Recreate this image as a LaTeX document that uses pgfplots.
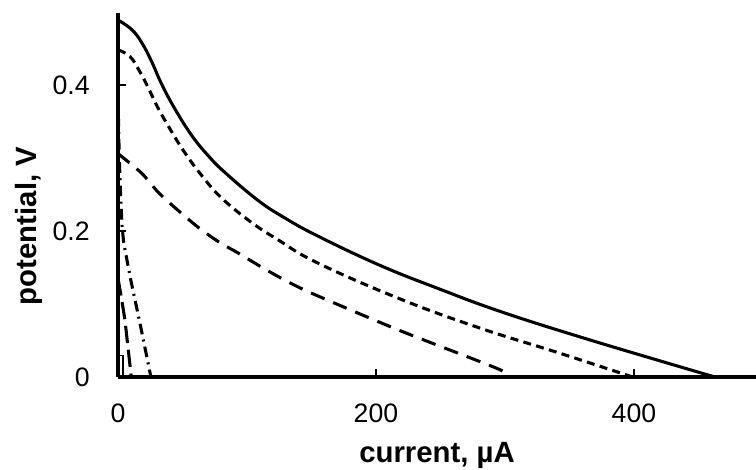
\documentclass[border=0pt]{standalone}
\usepackage{fontspec}
\setmainfont{Liberation Sans}
\usepackage{pgfplots}
\pgfplotsset{compat=1.18}

\begin{document}
\begin{tikzpicture}
\begin{axis}[
scale only axis,
width=478.5pt, height=273pt,
xmin=0, xmax=494.6,
ymin=0, ymax=0.4986,
axis lines=left,
axis line style={line width=2.3pt,-},
xtick={0,200,400},
ytick={0,0.2,0.4},
yticklabels={0,0.2,0.4},
tick align=inside,
major tick length=6pt,
tick style={line width=1.6pt,black},
/pgf/number format/assume math mode=true,
ticklabel style={font=\fontsize{20}{24}\selectfont, inner sep=0pt},
xticklabel style={anchor=north, yshift=-20pt},
yticklabel style={anchor=east, xshift=-21pt},
xlabel={current, µA},
ylabel={potential, V},
label style={font=\fontsize{22}{26}\selectfont\bfseries},
xlabel style={at={(axis description cs:0.5,-0.2345)}, anchor=base},
ylabel style={at={(axis description cs:-0.1275,0.4148)}, anchor=base},
every axis plot/.append style={line width=2.3pt, black},
]
% solid
\addplot[smooth, tension=0.7] coordinates {
(0,0.489) (10.6,0.476) (18.4,0.458) (26.1,0.432) (33.9,0.401)
(44.2,0.367) (57.1,0.331) (70,0.303) (83,0.280) (108.5,0.242)
(129.2,0.218) (155,0.193) (203,0.153) (250,0.120) (296,0.090) (358,0.055)
(435.7,0.014) (463,0)
};
% short dashes
\addplot[smooth, tension=0.7, dash pattern=on 6pt off 4pt] coordinates {
(0,0.448) (9.3,0.439) (17,0.418) (23.5,0.396) (31.2,0.368) (41.6,0.336)
(51.9,0.307) (64.9,0.276) (80.4,0.245) (103.3,0.212) (124,0.188)
(155,0.156) (218.6,0.107) (280.6,0.067) (340,0.034) (399,0)
};
% long dashes
\addplot[smooth, dash pattern=on 11pt off 7pt] coordinates {
(0,0.306) (18.4,0.279) (31.2,0.253) (46.7,0.228) (62.2,0.205)
(79,0.184) (93,0.170) (113.7,0.148) (134.4,0.128) (155,0.111) (218,0.064) (293.5,0.012)
(304,0)
};
% dash dot
\addplot[dash pattern=on 8pt off 4pt on 1.5pt off 4pt] coordinates {
(0,0.39) (0.5,0.34) (1,0.30) (2,0.25) (3.2,0.205) (4.5,0.183) (10,0.132)
(17,0.074) (25.5,0)
};
% long dash near origin
\addplot[dash pattern=on 13pt off 5pt] coordinates {
(0,0.135) (2.5,0.11) (5.4,0.078) (10.3,0)
};
% tiny curve
\addplot[line width=0.8pt] coordinates {
(1.3,0) (1.3,0.030) (3.9,0.030) (3.9,0)
};
\end{axis}
\pgfresetboundingbox
\path[use as bounding box] (-88.5pt,-69pt) rectangle (478.5pt,282.75pt);
\end{tikzpicture}
\end{document}
